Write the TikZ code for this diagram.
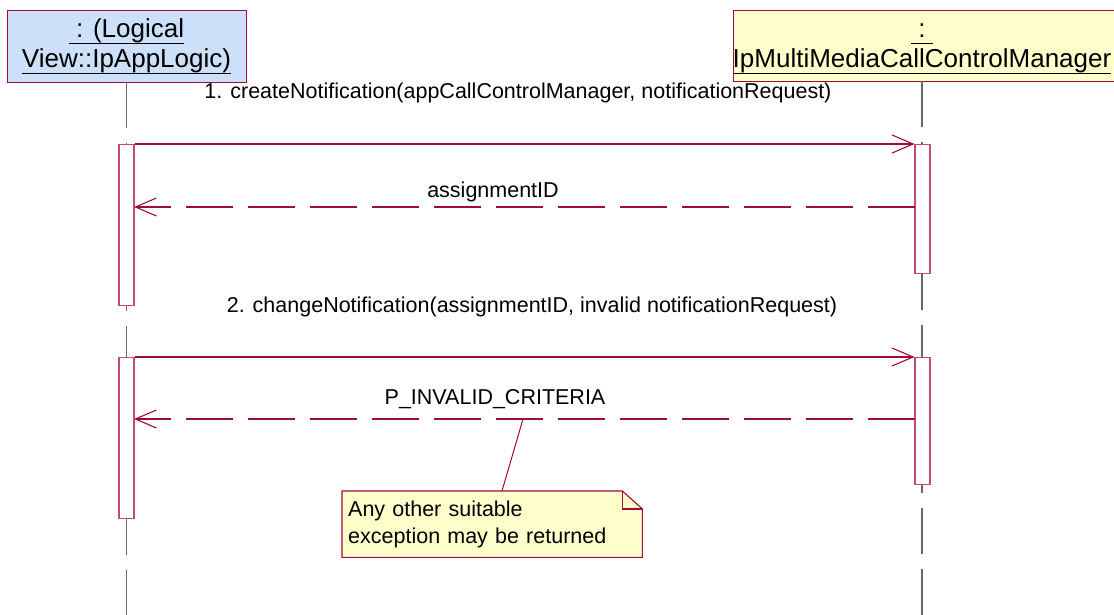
\documentclass[tikz,border=0pt]{standalone}
\usepackage{fontspec}
\setmainfont{Liberation Sans}
\usetikzlibrary{arrows.meta}
\definecolor{umlred}{RGB}{160,10,60}
\definecolor{actred}{RGB}{195,75,115}
\definecolor{objblue}{RGB}{204,224,250}
\definecolor{noteyel}{RGB}{255,255,204}
\definecolor{lifegray}{RGB}{105,105,105}
\newcommand\myul[1]{\setbox0\hbox{#1}\rlap{\rule[-6pt]{\wd0}{1.4pt}}\box0}
\begin{document}
\begin{tikzpicture}[x=1pt,y=-1pt,
  objbox/.style={draw=umlred,line width=1.1pt,anchor=north west,inner sep=0pt},
  ttl/.style={anchor=base,inner sep=0pt,font=\fontsize{26}{30}\selectfont},
  lbl/.style={anchor=base,inner sep=0pt,font=\fontsize{21.5}{27}\selectfont},
  lifeline/.style={draw=lifegray,line width=1.4pt,dash pattern=on 46pt off 15pt},
  actbar/.style={draw=actred,fill=white,line width=1.1pt,minimum width=15pt,anchor=north,inner sep=0pt},
  msg/.style={draw=umlred,line width=1.1pt,-{Straight Barb[length=21pt,width=18pt,line width=1.1pt]}},
  ret/.style={msg,dash pattern=on 47pt off 15pt},
  notebox/.style={anchor=north west,inner sep=6pt,text width=288pt,align=left,minimum height=66pt,font=\fontsize{21.5}{27}\selectfont}
]
\useasboundingbox (0,0) rectangle (1114,615);
\clip (0,0) rectangle (1114,615);

% object boxes
\node[objbox,fill=objblue,minimum width=239pt,minimum height=72pt] (app) at (7,10) {};
\node[ttl] (appt1) at (126.5,38) {\myul{\ : (Logical}};
\node[ttl] (appt2) at (126.5,68) {\myul{View::IpAppLogic)}};
\node[objbox,fill=noteyel,minimum width=420pt,minimum height=71pt] (mgr) at (733,10) {};
\node[ttl] (mgrt1) at (922,38) {\myul{\ :\ }};
\node[ttl] (mgrt2) at (922,68) {\myul{IpMultiMediaCallControlManager}};

% lifelines
\coordinate (appbot) at (126.5,82);
\coordinate (append) at (126.5,620);
\coordinate (mgrbot) at (922,81);
\coordinate (mgrend) at (922,620);
\draw[lifeline] (appbot) -- (append);
\draw[lifeline] (mgrbot) -- (mgrend);

% activation bars
\node[actbar,minimum height=161pt] (a1) at (126.5,144) {};
\node[actbar,minimum height=129pt] (b1) at (922.5,144) {};
\node[actbar,minimum height=161pt] (a2) at (126.5,357) {};
\node[actbar,minimum height=127pt] (b2) at (922.5,357) {};

% messages
\draw[msg] (a1.north east) -- (b1.north west);
\node[lbl] (m1) at (518,99) {1. createNotification(appCallControlManager, notificationRequest)};
\coordinate (r1b) at (915,207);
\coordinate (r1a) at (134,207);
\draw[ret] (r1b) -- (r1a);
\node[lbl] (m1r) at (493,197) {assignmentID};

\draw[msg] (a2.north east) -- (b2.north west);
\node[lbl] (m2) at (532,312) {2. changeNotification(assignmentID, invalid notificationRequest)};
\coordinate (r2b) at (915,419);
\coordinate (r2a) at (134,419);
\draw[ret] (r2b) -- (r2a);
\node[lbl] (m2r) at (495,404) {P\_INVALID\_CRITERIA};

% note
\node[notebox] (nt) at (342,491) {Any other suitable\\exception may be returned};
\fill[noteyel] (nt.north west) -- ([xshift=-20pt]nt.north east) -- ([yshift=-18pt]nt.north east) -- (nt.south east) -- (nt.south west) -- cycle;
\node[notebox] at (342,491) {Any other suitable\\exception may be returned};
\draw[umlred,line width=1.1pt] (nt.north west) -- ([xshift=-20pt]nt.north east) -- ([yshift=-18pt]nt.north east) -- (nt.south east) -- (nt.south west) -- cycle;
\draw[umlred,line width=1.1pt] ([xshift=-20pt]nt.north east) -- ([xshift=-20pt,yshift=-18pt]nt.north east) -- ([yshift=-18pt]nt.north east);
\coordinate (ncp) at (523,419);
\coordinate (ntp) at (502,491);
\draw[umlred,line width=1pt] (ncp) -- (ntp);
\end{tikzpicture}
\end{document}
